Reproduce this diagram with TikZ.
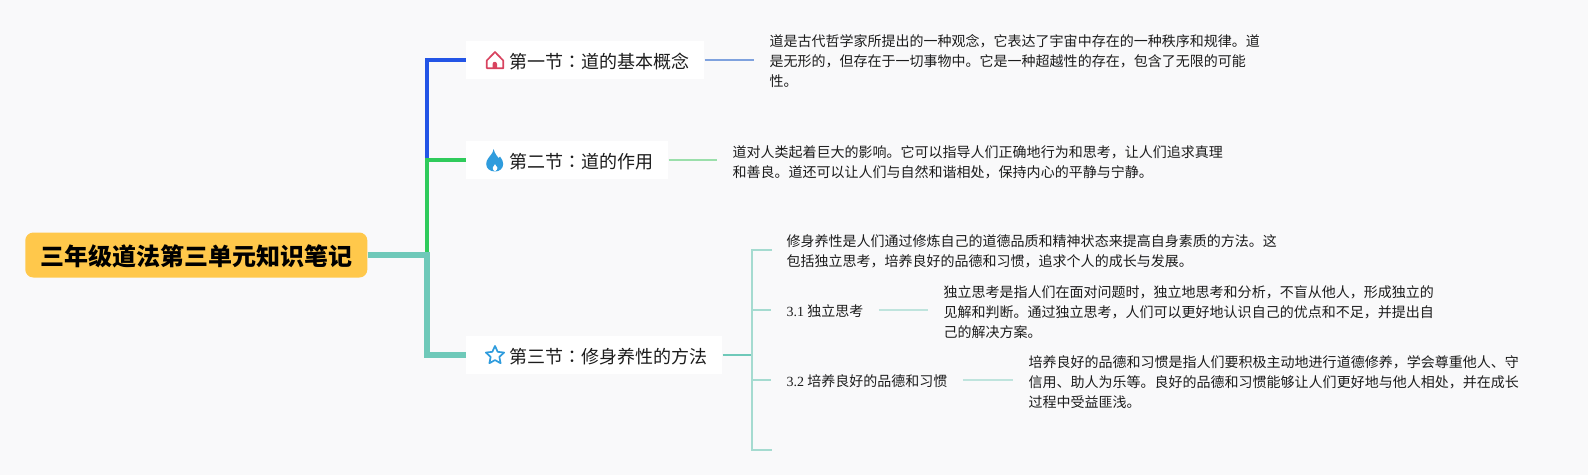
\documentclass[tikz,border=0pt]{standalone}
\usepackage{fontspec}
\setmainfont{Noto Sans CJK SC}
\newfontfamily\numfont{Liberation Serif}
\newfontfamily\colonfont{Noto Sans CJK TC}
\usetikzlibrary{shapes.geometric}
\definecolor{pagebg}{HTML}{F9F9FA}
\definecolor{rootfill}{HTML}{FFC84B}
\definecolor{inkdark}{HTML}{1C1C1C}
\definecolor{lineblue}{HTML}{2355E6}
\definecolor{linegreen}{HTML}{2FCB5B}
\definecolor{lineteal}{HTML}{6FC9B9}
\definecolor{leafblue}{HTML}{7FA2DE}
\definecolor{leafgreen}{HTML}{9BDFAB}
\definecolor{leafteal}{HTML}{A5DBD0}
\definecolor{leafpale}{HTML}{BFE4DD}
\definecolor{iconred}{HTML}{D8435F}
\definecolor{iconblue}{HTML}{2F9CDD}
\newcommand{\seccolon}{{\colonfont ：}}
\tikzset{
  rootbox/.style={fill=rootfill, rounded corners=5.7pt, anchor=west, text=black, inner xsep=10.67pt, inner ysep=0pt, minimum height=32pt, text height=15pt, text depth=0.6pt, font=\fontsize{17.07}{20}\selectfont\bfseries},
  secbox/.style={fill=white, anchor=west, text=inkdark, inner xsep=10.67pt, inner ysep=0pt, minimum height=27pt, font=\fontsize{12.8}{16}\selectfont, text height=12.8pt, text depth=0.6pt, execute at begin node={\hspace*{19.9pt}}},
  notebox/.style={anchor=west, align=left, text=inkdark, inner xsep=10.9pt, inner ysep=0pt, font=\fontsize{9.96}{14.23}\selectfont},
  itembox/.style={notebox, text height=9.6pt, text depth=0.6pt},
  leafline/.style={line width=1.1pt}
}
\begin{document}
\begin{tikzpicture}[x=0.025cm, y=-0.025cm]
  \fill[pagebg] (0,0) rectangle (1588,475);
  \useasboundingbox (0,0) rectangle (1588,475);

  % Root box
  \node[rootbox] (root) at (25,255) {三年级道法第三单元知识笔记};
  \coordinate (fork) at (427,255);

  % Section boxes
  \node[secbox] (sec1) at (466,60) {第一节\seccolon 道的基本概念};
  \node[secbox] (sec2) at (466,160) {第二节\seccolon 道的作用};
  \node[secbox] (sec3) at (466,355) {第三节\seccolon 修身养性的方法};

  % Notes of sections 1 and 2
  \node[notebox] (note1) at (754,61.3) {道是古代哲学家所提出的一种观念，它表达了宇宙中存在的一种秩序和规律。道\\是无形的，但存在于一切事物中。它是一种超越性的存在，包含了无限的可能\\性。};
  \node[notebox] (note2) at (717,162) {道对人类起着巨大的影响。它可以指导人们正确地行为和思考，让人们追求真理\\和善良。道还可以让人们与自然和谐相处，保持内心的平静与宁静。};

  % Section 3 children
  \coordinate (hub) at (752,355);
  \coordinate (item0) at (772,250);
  \coordinate (item3) at (772,450);
  \node[notebox] (note3) at (771,251.3) {修身养性是人们通过修炼自己的道德品质和精神状态来提高自身素质的方法。这\\包括独立思考，培养良好的品德和习惯，追求个人的成长与发展。};
  \node[itembox] (item1) at (771,310) {{\numfont 3.1} 独立思考};
  \node[itembox] (item2) at (771,380) {{\numfont 3.2} 培养良好的品德和习惯};
  \node[notebox] (note4) at (928,312) {独立思考是指人们在面对问题时，独立地思考和分析，不盲从他人，形成独立的\\见解和判断。通过独立思考，人们可以更好地认识自己的优点和不足，并提出自\\己的解决方案。};
  \node[notebox] (note5) at (1013,382) {培养良好的品德和习惯是指人们要积极主动地进行道德修养，学会尊重他人、守\\信用、助人为乐等。良好的品德和习惯能够让人们更好地与他人相处，并在成长\\过程中受益匪浅。};

  % Main branches
  \draw[line width=2.6pt, lineblue] (fork) |- (sec1.west);
  \draw[line width=2.8pt, linegreen] (fork) |- (sec2.west);
  \draw[line width=4.2pt, lineteal] (root.east) -- (fork) |- (sec3.west);

  % Leaf connectors
  \draw[leafline, leafblue] (sec1.east) -- (sec1.east -| note1.west);
  \draw[leafline, leafgreen] (sec2.east) -- (sec2.east -| note2.west);
  \draw[line width=1.5pt, lineteal] (sec3.east) -- (hub);
  \draw[leafline, leafteal] (item0) -- (item0 -| hub) -- (item3 -| hub) -- (item3);
  \draw[leafline, leafteal] (hub |- item1.west) -- (item1.west);
  \draw[leafline, leafteal] (hub |- item2.west) -- (item2.west);
  \draw[leafline, leafpale] (item1.east) -- (item1.east -| note4.west);
  \draw[leafline, leafpale] (item2.east) -- (item2.east -| note5.west);

  % House icon
  \draw[iconred, line width=1.2pt, line join=round] (486.8,60.5) -- (495,52) -- (503.2,60.5) -- (503.2,68.2) -- (486.8,68.2) -- cycle;
  \fill[iconred] (492.6,68.2) -- (492.6,64) arc[start angle=180, end angle=360, radius=2.2] -- (497,68.2) -- cycle;

  % Flame icon
  \fill[iconblue, even odd rule] (493.5,149) .. controls (495,154) and (497,156) .. (498.5,158) .. controls (499.5,158) and (500,157.5) .. (500,156.5) .. controls (502,159) and (503.2,161.5) .. (503.2,164) .. controls (503.2,168.5) and (499.5,171.5) .. (495,171.5) .. controls (490,171.5) and (486.2,168.5) .. (486.2,164) .. controls (486.2,159.5) and (489.5,157) .. (491.5,154) .. controls (492.5,152.5) and (493.5,151) .. (493.5,149) -- cycle (495,171.5) .. controls (497,170.5) and (497.8,169) .. (497.5,167.5) .. controls (497,166.5) and (495.8,165.5) .. (495,164) .. controls (494.2,165.5) and (492.8,166.5) .. (492.6,168) .. controls (492.6,169.5) and (493.5,170.8) .. (495,171.5) -- cycle;

  % Star icon
  \node[star, star points=5, star point ratio=2.1, draw=iconblue, line width=1.2pt, line join=round, minimum size=13.6pt, inner sep=0pt] (staricon) at (495,355.5) {};
\end{tikzpicture}
\end{document}
